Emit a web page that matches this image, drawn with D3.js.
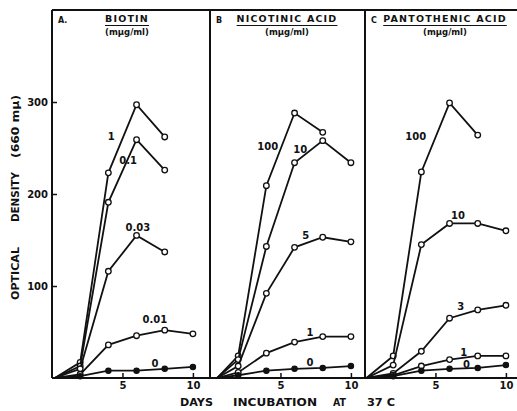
<!DOCTYPE html>
<html>
<head>
<meta charset="utf-8">
<script src="https://cdn.jsdelivr.net/npm/d3@7.9.0/dist/d3.min.js"></script>
<style>
  body { margin: 0; background: #fff; }
  svg { display: block; font-family: 'DejaVu Sans', sans-serif; font-weight: bold; }
  text { fill: #111; }
</style>
</head>
<body>
<svg id="chart" width="517" height="411"></svg>
<script>
// ---- data ----
const days = [2, 4, 6, 8, 10];
const startDays = [0.2, 0.5, 0.1];   // where each panel's curves leave the baseline

const panelLetters = ['A.', 'B', 'C'];
const panelTitles = ['BIOTIN', 'NICOTINIC ACID', 'PANTOTHENIC ACID'];
const unitLabel = '(mμg/ml)';

const biotinLevels = ['1', '0.1', '0.03', '0.01', '0'];
const biotinValues = [
  [17, 223, 297, 262, null],
  [13, 191, 259, 226, null],
  [10, 116, 155, 137, null],
  [4, 36, 46, 52, 48],
  [2, 8, 8, 10, 12]
];
const biotinLabelAt = [[4.2, 263], [5.4, 236], [6.1, 164], [7.3, 64], [7.3, 16]];

const nicotinicLevels = ['100', '10', '5', '1', '0'];
const nicotinicValues = [
  [24, 209, 288, 267, null],
  [20, 143, 234, 258, 234],
  [13, 92, 142, 153, 148],
  [6, 27, 39, 45, 45],
  [3, 8, 10, 11, 13]
];
const nicotinicLabelAt = [[4.1, 252], [6.4, 248], [6.8, 155], [7.1, 50], [7.1, 17]];

const pantothenicLevels = ['100', '10', '3', '1', '0'];
const pantothenicValues = [
  [24, 224, 299, 264, null],
  [14, 145, 168, 168, 160],
  [5, 29, 65, 74, 79],
  [3, 13, 20, 24, 24],
  [2, 8, 10, 11, 14]
];
const pantothenicLabelAt = [[3.6, 263], [6.6, 177], [6.8, 78], [7.0, 28], [7.2, 15]];

const yTicks = [100, 200, 300];
const xTicks = [5, 10];
const yLabelWords = ['OPTICAL', 'DENSITY', '(660 mμ)'];
const xLabelWords = ['DAYS', 'INCUBATION', 'AT', '37 C'];

const panels = [
  { levels: biotinLevels, values: biotinValues, labelAt: biotinLabelAt },
  { levels: nicotinicLevels, values: nicotinicValues, labelAt: nicotinicLabelAt },
  { levels: pantothenicLevels, values: pantothenicValues, labelAt: pantothenicLabelAt }
];

// ---- layout ----
const svg = d3.select('#chart');
const ink = '#111';
const panelLeft = [52, 210, 365];
const panelW = 155;
const y = d3.scaleLinear().domain([0, 400]).range([378, 10]);

// frame: top rule and baseline
svg.append('line')
  .attr('x1', panelLeft[0]).attr('x2', 517)
  .attr('y1', y(400)).attr('y2', y(400))
  .attr('stroke', ink).attr('stroke-width', 2);
svg.append('line')
  .attr('x1', panelLeft[0]).attr('x2', 517)
  .attr('y1', y(0)).attr('y2', y(0))
  .attr('stroke', ink).attr('stroke-width', 2.2);

panels.forEach((p, i) => {
  const x = d3.scaleLinear().domain([0, 11]).range([panelLeft[i], panelLeft[i] + panelW]);
  const g = svg.append('g');

  // left edge of panel
  g.append('line')
    .attr('x1', x(0)).attr('x2', x(0))
    .attr('y1', y(0)).attr('y2', y(400))
    .attr('stroke', ink).attr('stroke-width', 2);

  // x ticks (inside)
  const xa = g.append('g')
    .attr('transform', `translate(0,${y(0)})`)
    .call(d3.axisBottom(x).tickValues(xTicks).tickSize(-5).tickPadding(4));
  xa.select('.domain').remove();
  xa.selectAll('line').attr('stroke', ink).attr('stroke-width', 1.5);
  xa.selectAll('text').attr('font-size', 10).attr('font-weight', 'bold')
    .attr('font-family', 'DejaVu Sans, sans-serif').attr('fill', ink);

  if (i === 0) {
    const ya = g.append('g')
      .attr('transform', `translate(${x(0)},0)`)
      .call(d3.axisLeft(y).tickValues(yTicks).tickSize(-5).tickPadding(4));
    ya.select('.domain').remove();
    ya.selectAll('line').attr('stroke', ink).attr('stroke-width', 1.5);
    ya.selectAll('text').attr('font-size', 10).attr('font-weight', 'bold')
      .attr('font-family', 'DejaVu Sans, sans-serif').attr('fill', ink);
  }

  // headings
  const cx = x(0) + (i === 0 ? 75 : 77) + (i === 2 ? 3 : 0);
  g.append('text').attr('x', x(0) + 6).attr('y', 23)
    .attr('font-size', 8).text(panelLetters[i]);
  const title = g.append('text').attr('x', cx).attr('y', 22)
    .attr('text-anchor', 'middle').attr('font-size', 9.5)
    .attr('letter-spacing', 1.2).text(panelTitles[i]);
  const tw = title.node().getComputedTextLength();
  g.append('line')
    .attr('x1', cx - tw / 2).attr('x2', cx + tw / 2)
    .attr('y1', 25.5).attr('y2', 25.5)
    .attr('stroke', ink).attr('stroke-width', 1.2);
  g.append('text').attr('x', cx).attr('y', 35)
    .attr('text-anchor', 'middle').attr('font-size', 8.5)
    .text(unitLabel);

  // curves
  const line = d3.line().x(d => x(d[0])).y(d => y(d[1]));
  p.values.forEach((vals, k) => {
    const pts = days.map((d, j) => [d, vals[j]]).filter(d => d[1] !== null);
    g.append('path')
      .datum([[startDays[i], 0], ...pts])
      .attr('d', line)
      .attr('fill', 'none').attr('stroke', ink).attr('stroke-width', 1.8);
    const filled = p.levels[k] === '0';
    g.selectAll(null).data(pts).join('circle')
      .attr('cx', d => x(d[0])).attr('cy', d => y(d[1]))
      .attr('r', filled ? 2.6 : 2.8)
      .attr('fill', filled ? ink : '#fff')
      .attr('stroke', ink).attr('stroke-width', 1.3);
    g.append('text')
      .attr('x', x(p.labelAt[k][0])).attr('y', y(p.labelAt[k][1]))
      .attr('dy', '0.35em').attr('text-anchor', 'middle')
      .attr('font-size', 10).text(p.levels[k]);
  });
});

// axis titles
const yWordSpan = [[300, 247], [222, 172], [158, 95]];
yLabelWords.forEach((w, k) => {
  const [lo, hi] = yWordSpan[k];
  svg.append('text')
    .attr('transform', `translate(19,${(lo + hi) / 2}) rotate(-90)`)
    .attr('text-anchor', 'middle').attr('font-size', 11)
    .attr('textLength', lo - hi).attr('lengthAdjust', 'spacingAndGlyphs')
    .text(w);
});
const xWordSpan = [[180, 213], [233, 317], [333, 346], [367, 395]];
xLabelWords.forEach((w, k) => {
  const [a, b] = xWordSpan[k];
  svg.append('text')
    .attr('x', a).attr('y', 406).attr('font-size', 11)
    .attr('textLength', b - a).attr('lengthAdjust', 'spacingAndGlyphs')
    .text(w);
});
</script>
</body>
</html>
